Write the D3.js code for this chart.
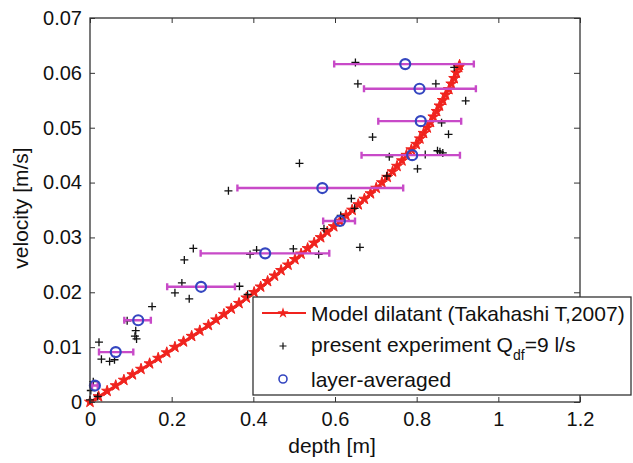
<!DOCTYPE html>
<html><head><meta charset="utf-8">
<script src="https://cdn.jsdelivr.net/npm/d3@7"></script>
<style>
body{margin:0;background:#fff;}
text{font-family:"Liberation Sans",Arial,sans-serif;}
</style></head>
<body><svg id="c" width="633" height="463"></svg>
<script>
// ---- data ----
const xTicks = [0, 0.2, 0.4, 0.6, 0.8, 1, 1.2];
const yTicks = [0, 0.01, 0.02, 0.03, 0.04, 0.05, 0.06, 0.07];

// model curve (depth, velocity)
const modelVelocity = [0,0.001,0.002,0.003,0.004,0.005,0.006,0.007,0.008,0.009,0.010,0.011,0.012,0.013,0.014,0.015,0.016,0.017,0.018,0.019,0.020,0.021,0.022,0.023,0.024,0.025,0.026,0.027,0.028,0.029,0.030,0.031,0.032,0.033,0.034,0.035,0.036,0.037,0.038,0.039,0.040,0.041,0.042,0.043,0.044,0.045,0.046,0.047,0.048,0.049,0.050,0.051,0.052,0.053,0.054,0.055,0.056,0.057,0.058,0.059,0.060,0.061,0.0614];
const modelDepth = [0,0.021,0.042,0.063,0.083,0.104,0.125,0.146,0.167,0.188,0.208,0.229,0.249,0.269,0.290,0.309,0.328,0.346,0.365,0.383,0.402,0.418,0.435,0.452,0.468,0.485,0.502,0.517,0.533,0.549,0.565,0.581,0.597,0.612,0.627,0.642,0.657,0.672,0.687,0.701,0.715,0.728,0.741,0.752,0.764,0.775,0.787,0.799,0.808,0.817,0.826,0.834,0.841,0.849,0.856,0.864,0.871,0.879,0.885,0.892,0.897,0.903,0.905];

// experiment points
const expDepth = [0.000,0.002,0.008,0.019,0.022,0.028,0.048,0.060,0.091,0.112,0.110,0.114,0.152,0.208,0.225,0.243,0.231,0.253,0.339,0.366,0.386,0.392,0.408,0.498,0.513,0.560,0.573,0.614,0.648,0.640,0.661,0.727,0.692,0.733,0.650,0.656,0.802,0.821,0.851,0.857,0.864,0.861,0.878,0.920,0.847,0.892];
const expVelocity = [0.0004,0.0021,0.0037,0.0010,0.0109,0.0078,0.0074,0.0077,0.0148,0.0130,0.0120,0.0115,0.0174,0.0199,0.0217,0.0188,0.0259,0.0280,0.0385,0.0211,0.0196,0.0269,0.0277,0.0279,0.0435,0.0269,0.0316,0.0340,0.0353,0.0371,0.0282,0.0412,0.0483,0.0447,0.0619,0.0580,0.0425,0.0451,0.0458,0.0456,0.0454,0.0509,0.0488,0.0549,0.0580,0.0610];

// layer-averaged with depth range
const layerDepth = [0.012,0.063,0.118,0.272,0.429,0.612,0.569,0.789,0.810,0.807,0.772];
const layerVelocity = [0.0030,0.0091,0.0149,0.0210,0.0271,0.0330,0.0390,0.0450,0.0512,0.0571,0.0616];
const layerMin = [0.005,0.022,0.084,0.189,0.271,0.571,0.361,0.665,0.706,0.671,0.598];
const layerMax = [0.019,0.106,0.149,0.355,0.586,0.649,0.767,0.906,0.909,0.945,0.940];

const legendLabels = ["Model dilatant (Takahashi T,2007)", "present experiment Q", "layer-averaged"];

// ---- drawing ----
const svg = d3.select("#c");
const L=90, R=580, T=18, B=402;
const x = d3.scaleLinear().domain([0,1.2]).range([L,R]);
const y = d3.scaleLinear().domain([0,0.07]).range([B,T]);
const fmt = d => String(+d.toFixed(2));

const red = "#f0231e", mag = "#c84ac8", blue = "#3446c0", ink = "#111";

// model line
const model = modelDepth.map((d,i)=>({d, v:modelVelocity[i]}));
svg.append("path").datum(model)
  .attr("fill","none").attr("stroke",red).attr("stroke-width",2.2)
  .attr("d", d3.line().x(p=>x(p.d)).y(p=>y(p.v)));
const star = d3.symbol().type(d3.symbolStar).size(38);
svg.append("g").selectAll("path").data(model).join("path")
  .attr("transform",p=>`translate(${x(p.d)},${y(p.v)})`)
  .attr("d",star).attr("fill",red).attr("stroke",red).attr("stroke-width",1);

// experiment plus
svg.append("g").selectAll("path").data(expDepth.map((d,i)=>({d,v:expVelocity[i]}))).join("path")
  .attr("d",p=>{const cx=x(p.d), cy=y(p.v), s=4;return `M${cx-s},${cy}H${cx+s}M${cx},${cy-s}V${cy+s}`;})
  .attr("stroke",ink).attr("stroke-width",1.3).attr("fill","none");

// error bars
const layers = layerDepth.map((d,i)=>({d, v:layerVelocity[i], lo:layerMin[i], hi:layerMax[i]}));
const eb = svg.append("g").attr("stroke",mag).attr("stroke-width",2.4).attr("fill","none");
eb.selectAll("path").data(layers).join("path")
  .attr("d",p=>{const yy=y(p.v), a=x(p.lo), b=x(p.hi);
    return `M${a},${yy}H${b}M${a},${yy-3.5}V${yy+3.5}M${b},${yy-3.5}V${yy+3.5}`;});
svg.append("g").selectAll("circle").data(layers).join("circle")
  .attr("cx",p=>x(p.d)).attr("cy",p=>y(p.v)).attr("r",5)
  .attr("fill","none").attr("stroke",blue).attr("stroke-width",2.2);

// axes
const axStroke="#333";
function styleAxis(g){
  g.select(".domain").remove();
  g.selectAll("line").attr("stroke",axStroke).attr("stroke-width",1);
  g.selectAll("text").attr("font-size",20).attr("fill",ink).attr("font-family","Liberation Sans, Arial, sans-serif");
}
svg.append("g").attr("transform",`translate(0,${B})`)
  .call(d3.axisBottom(x).tickValues(xTicks).tickFormat(fmt).tickSizeInner(-5).tickSizeOuter(0).tickPadding(10))
  .call(styleAxis);
svg.append("g").attr("transform",`translate(0,${T})`)
  .call(d3.axisTop(x).tickValues(xTicks).tickFormat("").tickSizeInner(-5).tickSizeOuter(0))
  .call(styleAxis);
svg.append("g").attr("transform",`translate(${L},0)`)
  .call(d3.axisLeft(y).tickValues(yTicks).tickFormat(fmt).tickSizeInner(-5).tickSizeOuter(0).tickPadding(8))
  .call(styleAxis);
svg.append("g").attr("transform",`translate(${R},0)`)
  .call(d3.axisRight(y).tickValues(yTicks).tickFormat("").tickSizeInner(-6).tickSizeOuter(0))
  .call(styleAxis);
svg.append("rect").attr("x",L).attr("y",T).attr("width",R-L).attr("height",B-T)
  .attr("fill","none").attr("stroke",axStroke).attr("stroke-width",1.3);

// axis labels
svg.append("text").attr("x",332).attr("y",453).attr("text-anchor","middle")
  .attr("font-size",21).attr("fill",ink).text("depth [m]");
svg.append("text").attr("transform","translate(28,208) rotate(-90)").attr("text-anchor","middle")
  .attr("font-size",21).attr("fill",ink).text("velocity [m/s]");

// legend
const lg = svg.append("g");
lg.append("rect").attr("x",253).attr("y",297).attr("width",378).attr("height",98)
  .attr("fill","#fff").attr("stroke",axStroke).attr("stroke-width",1.3);
const lx=283, tx=311, rows=[313,344,379];
lg.append("line").attr("x1",262).attr("x2",306).attr("y1",rows[0]).attr("y2",rows[0])
  .attr("stroke",red).attr("stroke-width",2);
lg.append("path").attr("transform",`translate(${lx},${rows[0]})`).attr("d",star).attr("fill",red);
lg.append("path").attr("d",`M${lx-3.5},${rows[1]+2}H${lx+3.5}M${lx},${rows[1]-1.5}V${rows[1]+5.5}`)
  .attr("stroke",ink).attr("stroke-width",1.2);
lg.append("circle").attr("cx",lx).attr("cy",rows[2]).attr("r",4).attr("fill","none")
  .attr("stroke",blue).attr("stroke-width",1.6);
lg.append("text").attr("x",tx).attr("y",rows[0]+7.5).attr("font-size",21).attr("fill",ink).text(legendLabels[0]);
const t2 = lg.append("text").attr("x",tx).attr("y",rows[1]+7.5).attr("font-size",21).attr("fill",ink);
t2.append("tspan").text(legendLabels[1]);
t2.append("tspan").attr("font-size",14).attr("dy",8).text("df");
t2.append("tspan").attr("dy",-8).text("=9 l/s");
lg.append("text").attr("x",tx).attr("y",rows[2]+7.5).attr("font-size",21).attr("fill",ink).text(legendLabels[2]);
</script></body></html>
